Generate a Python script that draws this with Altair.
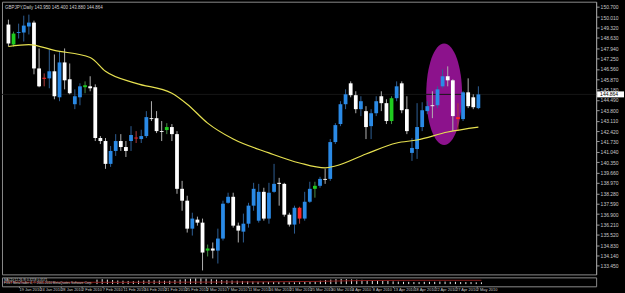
import altair as alt
import pandas as pd

# ---------------- data ----------------
opens  = [149.51,148.18,148.95,148.98,149.38,149.64,146.59,145.97,145.93,146.40,
          144.67,146.99,145.87,144.21,144.67,145.34,145.40,145.34,141.96,141.76,
          140.24,141.10,141.76,141.36,141.76,141.99,141.89,142.09,143.28,143.28,
          142.42,142.49,142.69,142.22,138.58,137.79,135.93,136.53,136.33,134.47,
          134.61,134.47,135.27,137.65,138.05,136.13,135.73,136.26,137.46,136.46,
          138.38,136.60,138.38,138.98,138.91,136.86,136.20,137.32,136.60,137.72,
          138.58,138.78,139.24,139.24,141.69,142.89,144.21,145.60,144.81,143.88,
          143.75,142.75,143.61,144.74,144.28,143.09,144.61,145.60,143.88,140.97,
          141.23,142.69,143.75,144.14,144.14,145.40,146.07,145.80,143.35,143.22,
          145.00,144.67,143.95]
highs  = [149.84,149.04,149.57,150.10,150.17,149.77,147.92,146.26,147.85,147.52,
          147.72,147.92,146.92,145.20,145.60,145.73,146.07,145.53,142.09,141.96,
          141.43,142.22,142.22,141.76,142.75,142.42,142.51,143.75,144.41,143.75,
          143.09,142.95,142.89,142.42,139.11,138.12,136.99,136.73,136.60,134.87,
          135.01,135.93,137.79,138.32,138.32,136.33,136.93,137.65,138.98,138.91,
          138.65,138.98,140.24,139.31,138.98,136.99,137.46,137.39,138.38,139.05,
          139.05,139.38,139.91,141.89,142.95,144.41,145.20,145.73,145.07,144.74,
          144.08,143.88,144.74,145.07,144.54,144.74,145.73,145.73,144.74,141.96,
          144.28,144.34,144.41,145.07,145.40,146.53,146.73,145.87,144.28,145.07,
          145.93,144.87,145.40]
lows   = [148.05,148.05,148.58,148.38,148.85,146.20,145.34,145.40,145.27,144.54,
          144.41,145.20,144.87,143.88,144.14,144.94,145.07,141.76,141.56,139.91,
          140.04,140.77,141.10,140.70,141.10,141.63,141.63,141.96,143.09,142.29,
          141.76,142.22,141.76,138.25,137.12,135.67,135.47,136.13,133.15,134.08,
          133.95,133.61,135.14,137.59,136.00,135.01,135.01,136.00,137.12,136.33,
          136.46,136.26,138.32,137.46,136.73,136.07,135.60,136.26,136.46,137.65,
          137.99,138.65,138.91,139.11,141.56,142.75,143.88,144.67,143.61,143.42,
          141.89,141.89,143.42,143.75,142.89,142.89,144.41,143.61,142.22,140.44,
          140.57,142.42,143.55,143.28,143.95,145.27,145.40,142.42,142.42,143.09,
          143.95,143.88,143.88]
closes = [148.25,148.91,149.01,149.44,149.64,146.59,145.40,145.90,146.40,144.74,
          146.99,145.80,144.94,144.74,145.40,145.47,145.27,141.96,141.76,140.24,
          141.10,141.76,141.36,141.10,142.16,141.93,142.09,143.35,143.22,142.42,
          142.36,142.69,142.22,138.58,137.79,135.93,136.60,136.33,134.34,134.61,
          134.47,135.27,137.59,138.05,136.13,135.80,136.26,137.46,138.58,138.38,
          136.60,138.32,138.91,138.91,136.86,136.20,137.32,136.60,137.72,138.58,
          138.78,139.24,139.18,141.69,142.82,144.21,144.87,144.81,143.88,144.41,
          142.69,143.61,144.41,144.28,143.09,144.61,145.40,143.81,142.42,141.30,
          142.69,143.81,144.08,144.08,145.20,146.07,145.80,143.42,143.22,145.00,
          144.08,144.01,144.864]
kinds  = ["w","g","b","b","b","w","w","r","b","w",
          "b","w","w","b","b","g","w","w","w","w",
          "b","b","w","w","b","r","b","b","w","w",
          "w","g","w","w","w","w","b","w","w","g",
          "w","b","b","b","w","w","b","b","b","b",
          "w","b","b","w","w","w","b","r","b","b",
          "g","b","w","b","b","b","b","w","w","b",
          "w","b","b","w","w","g","b","w","w","b",
          "b","b","b","w","b","b","w","w","r","b",
          "w","w","b"]

ma_idx = [0, 4, 9, 16, 19, 25, 32, 35, 39, 44, 51, 57, 62, 64, 70, 76, 80, 86, 92]
ma_val = [148.05,148.18,147.79,147.32,146.40,145.60,144.94,144.21,142.95,141.89,
          140.97,140.30,139.97,140.10,140.90,141.63,141.83,142.36,142.69]

price_ticks = [150.700,150.010,149.320,148.630,147.940,147.250,146.560,145.870,
               145.180,144.490,143.800,143.110,142.420,141.730,141.040,140.350,
               139.660,138.970,138.280,137.590,136.900,136.210,135.520,134.830,
               134.140,133.450]

date_idx = [-1,3,7,11,15,19,23,27,31,35,39,43,47,51,55,59,63,67,71,75,79,83,87,91]
date_lbl = ["14 Jan 2010","19 Jan 2010","24 Jan 2010","28 Jan 2010","2 Feb 2010",
            "7 Feb 2010","11 Feb 2010","16 Feb 2010","21 Feb 2010","25 Feb 2010",
            "2 Mar 2010","7 Mar 2010","11 Mar 2010","16 Mar 2010","21 Mar 2010",
            "25 Mar 2010","30 Mar 2010","4 Apr 2010","8 Apr 2010","13 Apr 2010",
            "18 Apr 2010","22 Apr 2010","27 Apr 2010","2 May 2010"]

hist_idx = list(range(18, 93))
hist_val = [2.0,2.2,2.0,1.8,1.6,1.5,1.4,1.3,1.5,1.6,1.8,1.7,1.6,1.5,1.5,1.8,2.0,
            2.2,2.4,2.5,2.5,2.4,2.2,2.0,1.8,1.7,1.6,1.5,1.4,1.3,1.2,1.1,1.0,1.0,
            0.9,0.9,0.8,0.8,0.8,0.8,0.9,1.0,1.2,1.5,1.8,2.0,2.2,2.3,2.2,2.1,2.0,
            1.9,1.8,1.7,1.6,1.5,1.4,1.2,1.1,1.0,1.0,0.9,0.9,1.0,1.0,1.0,1.1,1.1,
            1.0,1.0,0.9,0.9,0.9,0.8,0.8]
sig_idx = [0, 20, 40, 60, 70, 80, 92]
sig_val = [0.9, 0.8, 0.9, 1.2, 1.6, 1.7, 1.7]

title_txt = "GBPJPY,Daily  143.950 145.400 143.880 144.864"
sub_l1 = "MACD(12,26,9) 0.3218 0.3571"
sub_l2 = "FXST MetaTrader 4, \u00a9 2001-2010 MetaQuotes Software Corp."
last_price = 144.864

# ---------------- styling ----------------
BODY = {"w": "#ffffff", "b": "#2a8ae6", "g": "#1fcc1f", "r": "#ff2626"}
WICK = {"w": "#b0b0b0", "b": "#2e5f94", "g": "#4a8a4a", "r": "#b03a3a"}

df = pd.DataFrame({"i": list(range(len(opens))), "o": opens, "h": highs,
                   "l": lows, "c": closes, "k": kinds})
df["top"] = df[["o", "c"]].max(axis=1)
df["bot"] = df[["o", "c"]].min(axis=1)
df["bc"] = df["k"].map(BODY)
df["wc"] = df["k"].map(WICK)

W, H = 597, 274
XD = [-0.287, 114.08]
YD = [132.887, 151.031]
xs = alt.Scale(domain=XD, nice=False, zero=False)
ys = alt.Scale(domain=YD, nice=False, zero=False)
yaxis = alt.Axis(orient="right", values=price_ticks, format=".3f", grid=False,
                 labelFontSize=5, labelColor="#c8c8c8", tickColor="#9a9a9a",
                 tickSize=3, labelPadding=1, domainColor="#9a9a9a", title=None,
                 labelFont="Liberation Sans", labelFlush=False)

X = alt.X("i:Q", scale=xs, axis=None)

ell_df = pd.DataFrame({"i": [85.3], "p": [144.87]})
ellipse = alt.Chart(ell_df).mark_point(
    shape="M -0.353,0 A 0.353,1 0 1,0 0.353,0 A 0.353,1 0 1,0 -0.353,0 Z",
    size=10404, filled=True, color="#8c128c", opacity=1, strokeWidth=0
).encode(x=X, y=alt.Y("p:Q", scale=ys, axis=yaxis))

bid = alt.Chart(pd.DataFrame({"p": [last_price]})).mark_rule(
    color="#161616", strokeWidth=1).encode(y=alt.Y("p:Q", scale=ys, axis=yaxis))

wicks = alt.Chart(df).mark_rule(strokeWidth=1).encode(
    x=X, y=alt.Y("h:Q", scale=ys, axis=yaxis), y2="l:Q",
    color=alt.Color("wc:N", scale=None))

bodies = alt.Chart(df).mark_bar(size=3.8, minBandSize=1).encode(
    x=X, y=alt.Y("top:Q", scale=ys, axis=yaxis), y2="bot:Q",
    color=alt.Color("bc:N", scale=None))

ma_df = pd.DataFrame({"i": ma_idx, "p": ma_val})
ma = alt.Chart(ma_df).mark_line(color="#e6e050", strokeWidth=1.2,
                                interpolate="monotone").encode(
    x=X, y=alt.Y("p:Q", scale=ys, axis=yaxis))

title = alt.Chart(pd.DataFrame({"t": [title_txt]})).mark_text(
    align="left", baseline="top", fontSize=4.5, color="#d0d0d0",
    font="Liberation Sans").encode(x=alt.value(3), y=alt.value(3), text="t:N")

pbox = alt.Chart(pd.DataFrame({"p": [last_price]})).mark_rect(
    color="#ffffff", height=6).encode(
    x=alt.value(598), x2=alt.value(625), y=alt.Y("p:Q", scale=ys, axis=yaxis))
ptxt = alt.Chart(pd.DataFrame({"p": [last_price], "t": ["144.864"]})).mark_text(
    align="left", baseline="middle", fontSize=5, color="#000000",
    font="Liberation Sans").encode(
    x=alt.value(601), y=alt.Y("p:Q", scale=ys, axis=yaxis), text="t:N")

main = alt.layer(ellipse, bid, wicks, bodies, ma, title, pbox, ptxt).properties(
    width=W, height=H)

# ---------------- sub window ----------------
lbl_expr = "[" + ",".join("'%s'" % s for s in date_lbl) + "][round((datum.value+1)/4)]"
xaxis = alt.Axis(values=date_idx, labelExpr=lbl_expr, labelAlign="left",
                 labelBaseline="top",
                 labelFontSize=4, labelColor="#c8c8c8", tickColor="#9a9a9a",
                 tickSize=1, labelPadding=0, domain=False, grid=False,
                 title=None, labelFont="Liberation Sans", labelFlush=False,
                 labelOverlap=False)
XS = alt.X("i:Q", scale=xs, axis=xaxis)
sys_ = alt.Scale(domain=[-1, 3], nice=False, zero=False)

hdf = pd.DataFrame({"i": hist_idx, "v": hist_val, "z": [0.0] * len(hist_idx)})
hist = alt.Chart(hdf).mark_rule(color="#e8e8e8", strokeWidth=1).encode(
    x=XS, y=alt.Y("v:Q", scale=sys_, axis=None), y2="z:Q")
sig = alt.Chart(pd.DataFrame({"i": sig_idx, "v": sig_val})).mark_line(
    color="#8b1a1a", strokeWidth=1, interpolate="monotone").encode(
    x=XS, y=alt.Y("v:Q", scale=sys_, axis=None))
txt_df = pd.DataFrame({"t": [sub_l1, sub_l2], "r": [0, 1]})
subtxt = alt.Chart(txt_df).mark_text(
    align="left", baseline="top", fontSize=3.2, color="#d0d0d0",
    font="Liberation Sans").encode(
    x=alt.value(2), y=alt.Y("r:O", axis=None, scale=alt.Scale(range=[-0.6, 5.0])),
    text="t:N")
sub = alt.layer(hist, sig, subtxt).properties(width=W, height=9)

chart = alt.vconcat(main, sub, spacing=1).properties(
    background="#000000", padding=0).configure_view(
    stroke="#8a8a8a", strokeWidth=1).configure_concat(spacing=1)

chart.save("out.html", embed_options={"renderer": "svg", "actions": False})
